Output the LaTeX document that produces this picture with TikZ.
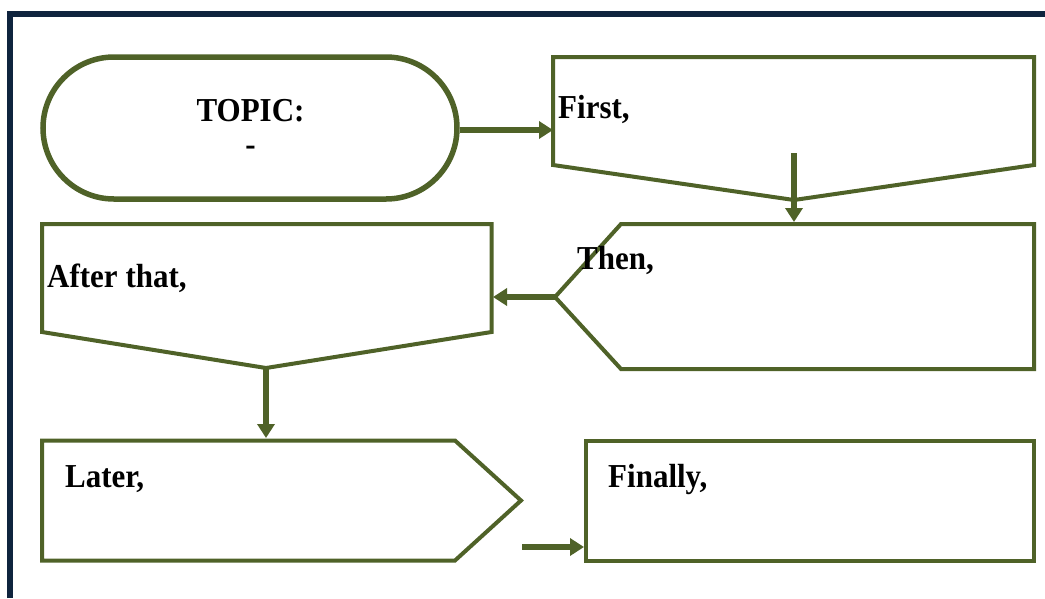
\documentclass[tikz,border=0pt]{standalone}
\usepackage{fontspec}
\setmainfont{Liberation Serif}
\usetikzlibrary{arrows.meta}
\definecolor{frameblue}{HTML}{0F243E}
\definecolor{olive}{HTML}{4F6228}
% bold label text, slightly stretched upright
\newcommand{\labeltext}[1]{\scalebox{1}[1.08]{#1}}
\begin{document}
\begin{tikzpicture}[x=1pt,y=-1pt,
  boxline/.style={draw=olive, line width=4pt, line join=miter},
  flowarrow/.style={draw=olive, line width=6pt, -{Triangle[length=14pt,width=17pt]}},
  steptext/.style={font=\fontsize{31}{34}\selectfont\bfseries, inner sep=0pt, anchor=base west},
  titletext/.style={font=\fontsize{31}{34}\selectfont\bfseries, inner sep=0pt, anchor=base},
]
\useasboundingbox (0,0) rectangle (1045,598);

% page frame (top and left edges)
\draw[frameblue, line width=6pt, line join=miter] (10,598) -- (10,13.8) -- (1045,13.8);

% topic terminator
\node[draw=olive, line width=5.5pt, rounded corners=71pt, minimum width=414pt,
      minimum height=142pt, inner sep=0pt] (topic) at (250,128) {};
\node[titletext] (topictitle) at (250.5,121) {\labeltext{TOPIC:}};
\node[titletext] (topicdash) at (250.5,155) {\labeltext{-}};

% first step: box with a pointed bottom
\draw[boxline] (553,57) -- (1034,57) -- (1034,165) -- (794,200) -- (553,165) -- cycle;
\coordinate (firstW) at (553,130);
\coordinate (firstS) at (794,153);
\node[steptext] (first) at (558,118) {\labeltext{First,}};

% second step: pentagon pointing left
\draw[boxline] (621,224) -- (1034,224) -- (1034,369) -- (621,369) -- (555,297) -- cycle;
\coordinate (thenN) at (794,222);
\coordinate (thenW) at (555,297);
\node[steptext] (then) at (577,269) {\labeltext{Then,}};

% third step: box with a pointed bottom
\draw[boxline] (42,224) -- (491.5,224) -- (491.5,332) -- (266,368) -- (42,332) -- cycle;
\coordinate (afterE) at (493,297);
\coordinate (afterS) at (266,368);
\node[steptext] (after) at (47,287) {\labeltext{After that,}};

% fourth step: pentagon pointing right
\draw[boxline] (42,440.5) -- (455,440.5) -- (521,500.5) -- (455,560.5) -- (42,560.5) -- cycle;
\coordinate (laterN) at (266,438);
\coordinate (laterE) at (522,547);
\node[steptext] (later) at (65,487) {\labeltext{Later,}};

% final step
\draw[boxline] (586,440.5) rectangle (1034,560.5);
\coordinate (finallyW) at (584,547);
\node[steptext] (finally) at (608,487) {\labeltext{Finally,}};

% connectors
\draw[flowarrow] (topic.east |- firstW) -- (firstW);
\draw[flowarrow] (firstS) -- (thenN);
\draw[flowarrow] (thenW) -- (afterE);
\draw[flowarrow] (afterS) -- (laterN);
\draw[flowarrow] (laterE) -- (finallyW);
\end{tikzpicture}
\end{document}
